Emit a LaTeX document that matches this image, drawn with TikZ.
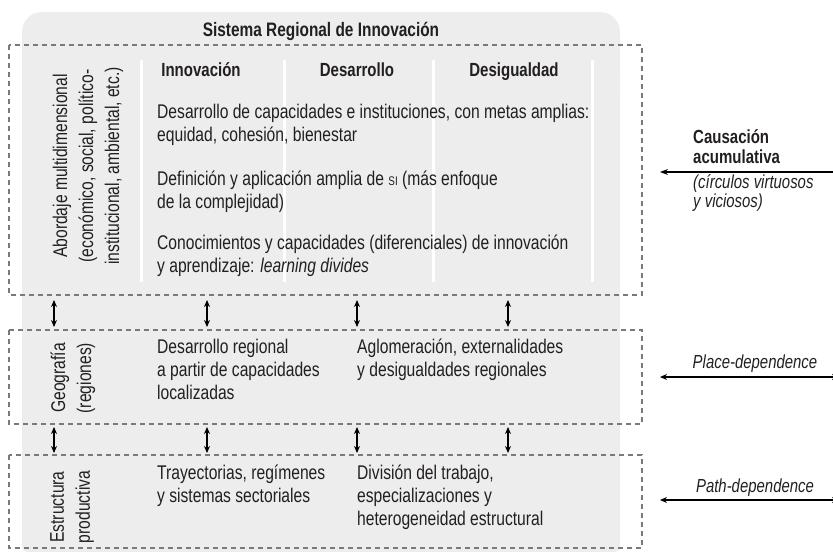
\documentclass[tikz,border=0pt]{standalone}
\usepackage{fontspec}
\setmainfont[FakeStretch=0.79]{Liberation Sans}
\usetikzlibrary{arrows.meta}
\definecolor{bgc}{HTML}{EDEDED}
\definecolor{dashc}{HTML}{7A7A7A}
\definecolor{txt}{HTML}{231F20}
\begin{document}
\begin{tikzpicture}[x=1pt,y=-1pt,text=txt,
  dashbox/.style={draw=dashc, line width=1.8pt, dash pattern=on 5pt off 4pt},
  bodytxt/.style={anchor=base west, align=left, inner sep=0pt, font=\fontsize{19.8}{23}\selectfont},
  hdr/.style={anchor=base, inner sep=0pt, font=\bfseries\fontsize{19}{21}\selectfont},
  vtxt/.style={rotate=90, align=center, inner sep=0pt, font=\fontsize{19.8}{26}\selectfont},
  rtxt/.style={anchor=base west, align=left, inner sep=0pt},
  dbl/.style={{Stealth[length=7pt,width=6pt]}-{Stealth[length=7pt,width=6pt]}, line width=1.4pt},
  sgl/.style={{Stealth[length=8pt,width=6pt]}-, line width=1.4pt},
  wline/.style={white, line width=3pt}]
\useasboundingbox (0,0) rectangle (833,554);
% background
\fill[bgc, rounded corners=20pt] (22,12) rectangle (620,120);
\fill[bgc, rounded corners=5pt] (22,60) rectangle (620,552);
% white column lines
\foreach \xx in {141,284,433,592} \draw[wline] (\xx,60) -- (\xx,282);
% dashed boxes
\draw[dashbox] (9,45) rectangle (642,295);
\draw[dashbox] (9,330) rectangle (642,424);
\draw[dashbox] (9,455) rectangle (642,548);
% title and headers
\node[hdr, font=\bfseries\fontsize{19.5}{21}\selectfont] (title) at (321,36) {Sistema Regional de Innovación};
\node[hdr] (h1) at (201,76) {Innovación};
\node[hdr] (h2) at (357,76) {Desarrollo};
\node[hdr] (h3) at (514,76) {Desigualdad};
% vertical labels
\node[vtxt] (v1) at (88,166) {Abordaje multidimensional\\(económico, social, político-\\institucional, ambiental, etc.)};
\node[vtxt] (v2) at (73,378) {Geografía\\(regiones)};
\node[vtxt] (v3) at (72,507) {Estructura\\productiva};
% body text, top box (base = last line)
\node[bodytxt] (p1) at (157,141) {Desarrollo de capacidades e instituciones, con metas amplias:\\equidad, cohesión, bienestar};
\node[bodytxt] (p2) at (157,208) {Definición y aplicación amplia de {\fontsize{12.5}{12.5}\selectfont SI} (más enfoque\\de la complejidad)};
\node[bodytxt] (p3) at (157,272) {Conocimientos y capacidades (diferenciales) de innovación\\y aprendizaje: \textit{learning divides}};
% geography
\node[bodytxt] (g1) at (157,399) {Desarrollo regional\\a partir de capacidades\\localizadas};
\node[bodytxt] (g2) at (357,376) {Aglomeración, externalidades\\y desigualdades regionales};
% structure
\node[bodytxt] (s1) at (157,502) {Trayectorias, regímenes\\y sistemas sectoriales};
\node[bodytxt] (s2) at (357,525) {División del trabajo,\\especializaciones y\\heterogeneidad estructural};
% arrows between boxes
\foreach \xx [count=\i] in {54,207,357,508} {
  \coordinate (a\i t) at (\xx,300);
  \coordinate (a\i b) at (\xx,327);
  \coordinate (c\i t) at (\xx,427);
  \coordinate (c\i b) at (\xx,453);
  \draw[dbl] (a\i t) -- (a\i b);
  \draw[dbl] (c\i t) -- (c\i b);
}
% right side
\node[rtxt, font=\bfseries\fontsize{19}{20}\selectfont] (ca) at (693,163) {Causación\\acumulativa};
\node[rtxt, font=\itshape\fontsize{18.9}{17.5}\selectfont] (cb) at (693,207) {(círculos virtuosos\\y viciosos)};
\coordinate (r1a) at (660,172);
\coordinate (r1b) at (834,172);
\draw[sgl] (r1a) -- (r1b);
\node[anchor=base, inner sep=0pt, font=\itshape\fontsize{18.9}{20}\selectfont] (pl) at (755,368) {Place-dependence};
\coordinate (r2a) at (660,377);
\coordinate (r2b) at (839,377);
\draw[dbl] (r2a) -- (r2b);
\node[anchor=base, inner sep=0pt, font=\itshape\fontsize{18.9}{20}\selectfont] (pa) at (755,492) {Path-dependence};
\coordinate (r3a) at (660,500);
\coordinate (r3b) at (839,500);
\draw[dbl] (r3a) -- (r3b);
\end{tikzpicture}
\end{document}
